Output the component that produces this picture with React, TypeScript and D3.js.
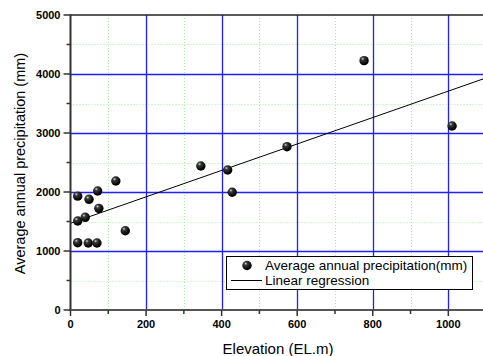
import React from 'react';
import * as d3 from 'd3';

// elevation (m) and average annual precipitation (mm)
const elevation = [19, 49, 72, 120, 75, 19, 39, 145, 19, 47, 70, 345, 416, 573, 428, 777, 1010];
const precipitation = [1930, 1876, 2017, 2186, 1723, 1508, 1571, 1344, 1141, 1136, 1136, 2441, 2373, 2768, 1995, 4226, 3119];

// regression
const regIntercept = 1470;
const regSlope = 2.24;

const xMajor = [0, 200, 400, 600, 800, 1000];
const xMinor = [100, 300, 500, 700, 900, 1100];
const yMajor = [0, 1000, 2000, 3000, 4000, 5000];
const yMinor = [500, 1500, 2500, 3500, 4500];

const W = 483;
const H = 356;
const margin = { top: 15, left: 70.5, bottom: 310 };

export default function App() {
  const x = d3.scaleLinear().domain([0, 1100]).range([margin.left, margin.left + 415.6]);
  const y = d3.scaleLinear().domain([0, 5000]).range([margin.bottom, margin.top]);
  const line = d3.line<number>().x(d => x(d)).y(d => y(regIntercept + regSlope * d));
  const pts = elevation.map((e, i) => ({ e, p: precipitation[i] }));
  const font = 'Arial, "Liberation Sans", sans-serif';
  const px = (v: number) => Math.round(v) + 0.5;

  return (
    <svg width={W} height={H} style={{ position: 'absolute', left: 0, top: 0, background: '#fff' }} fontFamily={font}>
      <defs>
        <radialGradient id="ball" cx="0.36" cy="0.3" r="0.62">
          <stop offset="0" stopColor="#d8d8d8" />
          <stop offset="0.28" stopColor="#3a3a3a" />
          <stop offset="1" stopColor="#000" />
        </radialGradient>
      </defs>

      {/* minor grid */}
      {xMinor.map(v => (
        <line key={'xm' + v} x1={px(x(v))} x2={px(x(v))} y1={y(5000)} y2={y(0)} stroke="#9cf59c" strokeDasharray="1,2" />
      ))}
      {yMinor.map(v => (
        <line key={'ym' + v} x1={margin.left} x2={W} y1={px(y(v))} y2={px(y(v))} stroke="#9cf59c" strokeDasharray="1,2" />
      ))}
      {/* major grid */}
      {xMajor.slice(1).map(v => (
        <line key={'xM' + v} x1={px(x(v))} x2={px(x(v))} y1={y(5000)} y2={y(0)} stroke="#1f1fff" strokeWidth={1.3} />
      ))}
      {yMajor.slice(1, -1).map(v => (
        <line key={'yM' + v} x1={margin.left} x2={W} y1={px(y(v))} y2={px(y(v))} stroke="#1f1fff" strokeWidth={1.3} />
      ))}

      {/* top border */}
      <line x1={margin.left} x2={W} y1={y(5000)} y2={y(5000)} stroke="#222" strokeWidth={1.5} />

      {/* regression */}
      <path d={line([0, 1100]) || ''} fill="none" stroke="#000" strokeWidth={1} />

      {/* points */}
      {pts.map((d, i) => (
        <circle key={i} cx={x(d.e)} cy={y(d.p)} r={4.7} fill="url(#ball)" />
      ))}

      {/* axes */}
      <line x1={margin.left} x2={margin.left} y1={y(5000) - 0.7} y2={y(0) + 1} stroke="#333" strokeWidth={2} />
      <line x1={margin.left - 1} x2={W} y1={y(0)} y2={y(0)} stroke="#555" strokeWidth={2} />
      {yMajor.map(v => (
        <g key={'yt' + v}>
          <line x1={margin.left - 7} x2={margin.left} y1={y(v)} y2={y(v)} stroke="#333" strokeWidth={1.5} />
          <text x={margin.left - 10} y={y(v)} dy="0.35em" textAnchor="end" fontSize={11} fontWeight="bold">{v}</text>
        </g>
      ))}
      {yMinor.map(v => (
        <line key={'ymt' + v} x1={margin.left - 4} x2={margin.left} y1={y(v)} y2={y(v)} stroke="#333" strokeWidth={1.5} />
      ))}
      {xMajor.map(v => (
        <g key={'xt' + v}>
          <line x1={x(v)} x2={x(v)} y1={y(0)} y2={y(0) + 6} stroke="#333" strokeWidth={1.5} />
          <text x={x(v)} y={y(0) + 14} dy="0.35em" textAnchor="middle" fontSize={11} fontWeight="bold">{v}</text>
        </g>
      ))}
      {xMinor.map(v => (
        <line key={'xmt' + v} x1={x(v)} x2={x(v)} y1={y(0)} y2={y(0) + 4} stroke="#333" strokeWidth={1.5} />
      ))}

      {/* axis titles */}
      <text x={278} y={349} dy="0.35em" textAnchor="middle" fontSize={15}>Elevation (EL.m)</text>
      <text transform="translate(20,163.5) rotate(-90)" dy="0.35em" textAnchor="middle" fontSize={14.5}>
        Average annual precipitation (mm)
      </text>

      {/* legend */}
      <g transform="translate(226,256)">
        <rect x={0.5} y={0.5} width={246} height={33} fill="#fff" stroke="#000" strokeWidth={1} />
        <circle cx={21} cy={9.5} r={4.7} fill="url(#ball)" />
        <text x={39} y={9.5} dy="0.35em" fontSize={13.5}>Average annual precipitation(mm)</text>
        <line x1={5} x2={36} y1={24.5} y2={24.5} stroke="#000" />
        <text x={39} y={24.5} dy="0.35em" fontSize={13.5}>Linear regression</text>
      </g>
    </svg>
  );
}
